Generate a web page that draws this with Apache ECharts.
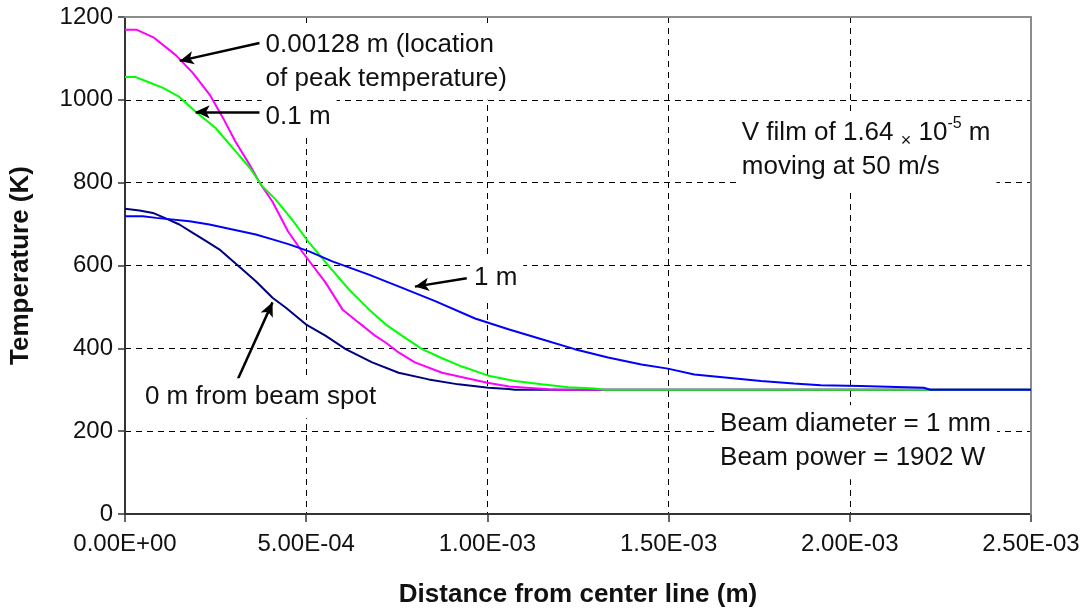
<!DOCTYPE html>
<html>
<head>
<meta charset="utf-8">
<script src="https://cdn.jsdelivr.net/npm/echarts@6/dist/echarts.min.js"></script>
<style>
  html, body { margin: 0; padding: 0; background: #fff; }
  #chart { width: 1087px; height: 613px; }
</style>
</head>
<body>
<div id="chart"></div>
<script>
// Temperature profiles across the V film, distance in metres
const distSpot = [0, 0.00004, 0.000077, 0.000114, 0.00015, 0.000187, 0.000224, 0.00026, 0.000306, 0.000325, 0.000361, 0.000407, 0.000444, 0.000499, 0.000554, 0.000609, 0.000682, 0.000755, 0.000838, 0.00092, 0.001003, 0.001058, 0.001076, 0.0025];
const tempSpot = [737, 733, 727, 713, 699, 679, 659, 639, 604, 590, 562, 522, 498, 458, 430, 398, 366, 341, 325, 313, 305, 302, 300, 300];

const distPeak = [0, 0.000033, 0.00008, 0.00014, 0.000187, 0.000234, 0.00027, 0.000305, 0.000344, 0.00037, 0.000407, 0.00045, 0.00049, 0.000554, 0.0006, 0.000645, 0.000691, 0.000719, 0.000755, 0.0008, 0.000875, 0.001, 0.00106, 0.00117, 0.0012, 0.0025];
const tempPeak = [1169, 1169, 1150, 1108, 1065, 1012, 957, 899, 843, 802, 754, 682, 632, 558, 494, 462, 430, 414, 390, 366, 341, 317, 308, 301, 300, 300];

const dist01 = [0, 0.00003, 0.00005, 0.000105, 0.00015, 0.000195, 0.00025, 0.000297, 0.000344, 0.00038, 0.000416, 0.00046, 0.000508, 0.000563, 0.000618, 0.000673, 0.000719, 0.000765, 0.00082, 0.000875, 0.00093, 0.001003, 0.001076, 0.00115, 0.001223, 0.001296, 0.001324, 0.0025];
const temp01 = [1055, 1055, 1048, 1029, 1007, 971, 932, 884, 836, 790, 759, 712, 655, 598, 542, 494, 458, 430, 398, 376, 356, 334, 321, 313, 306, 303, 300, 300];

const dist1 = [0, 0.000049, 0.000086, 0.000178, 0.000233, 0.000297, 0.000361, 0.000407, 0.000453, 0.000508, 0.000572, 0.000673, 0.000765, 0.000856, 0.000966, 0.001058, 0.00115, 0.001241, 0.001333, 0.001425, 0.001498, 0.001571, 0.001663, 0.001755, 0.001846, 0.00192, 0.00203, 0.002204, 0.002222, 0.0025];
const temp1 = [719, 719, 715, 707, 699, 687, 675, 663, 651, 634, 610, 578, 546, 514, 472, 446, 422, 398, 378, 361, 351, 337, 329, 321, 315, 311, 309, 305, 300, 300];

const xMin = 0, xMax = 0.0025, xStep = 0.0005;
const yMin = 0, yMax = 1200, yStep = 200;

// Callout arrows: [tail, head] in data coordinates
const arrows = [
  [[0.000371, 1137], [0.000151, 1094]],
  [[0.000371, 971], [0.000195, 971]],
  [[0.000943, 569], [0.0008, 549]],
  [[0.000311, 325], [0.000407, 511]]
];

// Callout texts anchored at [left edge, centre of first line] in data coordinates
const notes = [
  { at: [0.000388, 1133], text: '0.00128 m (location\nof peak temperature)' },
  { at: [0.000388, 959], text: '0.1 m' },
  { at: [0.000963, 571], text: '1 m' },
  { at: [0.000055, 282], text: '0 m from beam spot' },
  { at: [0.001702, 920], text: 'V film of 1.64 {x|×} 10{sup|-5} m\nmoving at 50 m/s' },
  { at: [0.001642, 217], text: 'Beam diameter = 1 mm\nBeam power = 1902 W' }
];

const FONT = '"Liberation Sans", Arial, sans-serif';
const TXT = '#111';

function sciLabel(v) {
  const parts = v.toExponential(2).split('e');
  const exp = parseInt(parts[1], 10);
  const sign = exp < 0 ? '-' : '+';
  const mag = String(Math.abs(exp)).padStart(2, '0');
  return parts[0] + 'E' + sign + mag;
}

function pairs(xs, ys) { return xs.map((x, i) => [x, ys[i]]); }

function curve(name, xs, ys, color) {
  return {
    name, type: 'line', data: pairs(xs, ys),
    showSymbol: false, symbol: 'none',
    lineStyle: { color, width: 2 },
    emphasis: { disabled: true },
    animation: false, z: 3
  };
}

const chart = echarts.init(document.getElementById('chart'), null, { renderer: 'canvas' });

const option = {
  backgroundColor: '#fff',
  animation: false,
  grid: { left: 122, right: 56, top: 17, bottom: 98, containLabel: false },
  xAxis: [{
    type: 'value', min: xMin, max: xMax, interval: xStep,
    name: 'Distance from center line (m)', nameLocation: 'middle', nameGap: 68,
    nameTextStyle: { fontFamily: FONT, fontSize: 26, fontWeight: 'bold', color: TXT },
    axisLine: { show: true, onZero: false, lineStyle: { color: '#333', width: 2 } },
    axisTick: { show: true, inside: false, length: 8, lineStyle: { color: '#333', width: 1.5 } },
    axisLabel: { fontFamily: FONT, fontSize: 24, color: TXT, margin: 18, formatter: sciLabel },
    splitLine: { show: true, lineStyle: { color: '#000', width: 1, type: [6, 5] } }
  }, {
    type: 'value', min: xMin, max: xMax, position: 'top', z: 1,
    axisLine: { show: true, onZero: false, lineStyle: { color: '#8c8c8c', width: 2 } },
    axisTick: { show: false }, axisLabel: { show: false }, splitLine: { show: false }
  }],
  yAxis: [{
    type: 'value', min: yMin, max: yMax, interval: yStep,
    name: 'Temperature (K)', nameLocation: 'middle', nameGap: 91, nameRotate: 90,
    nameTextStyle: { fontFamily: FONT, fontSize: 26, fontWeight: 'bold', color: TXT },
    axisLine: { show: true, onZero: false, lineStyle: { color: '#333', width: 2 } },
    axisTick: { show: true, inside: false, length: 7, lineStyle: { color: '#333', width: 1.5 } },
    axisLabel: { fontFamily: FONT, fontSize: 24, color: TXT, margin: 12, formatter: v => String(v) },
    splitLine: { show: true, lineStyle: { color: '#000', width: 1, type: [6, 5] } }
  }, {
    type: 'value', min: yMin, max: yMax, position: 'right', z: 1,
    axisLine: { show: true, onZero: false, lineStyle: { color: '#8c8c8c', width: 2 } },
    axisTick: { show: false }, axisLabel: { show: false }, splitLine: { show: false }
  }],
  series: [
    curve('0 m', distSpot, tempSpot, '#000080'),
    curve('0.00128 m', distPeak, tempPeak, '#ff00ff'),
    curve('0.1 m', dist01, temp01, '#00ff00'),
    curve('1 m', dist1, temp1, '#0000ff'),
    {
      name: 'callouts', type: 'line', data: [], z: 5,
      markLine: {
        silent: true, animation: false,
        symbol: ['none', 'arrow'], symbolSize: [10, 14],
        lineStyle: { color: '#000', width: 2.5, type: 'solid' },
        label: { show: false },
        emphasis: { disabled: true },
        data: arrows.map(a => [{ coord: a[0] }, { coord: a[1] }])
      }
    }
  ]
};

chart.setOption(option);

// Place the callout texts (white boxes mask the grid behind them)
const graphics = notes.map(n => {
  const p = chart.convertToPixel({ gridIndex: 0 }, n.at);
  return {
    type: 'text', x: p[0] - 4, y: p[1] - 17 - 2, z: 10,
    style: {
      text: n.text,
      font: '26px ' + FONT,
      fill: TXT,
      lineHeight: 34,
      verticalAlign: 'top',
      align: 'left',
      backgroundColor: '#fff',
      padding: [2, 6, 4, 4],
      rich: {
        x: { font: '18px ' + FONT, fill: TXT, lineHeight: 34, verticalAlign: 'bottom' },
        sup: { font: '16px ' + FONT, fill: TXT, lineHeight: 34, verticalAlign: 'top', padding: [0, 0, 14, 0] }
      }
    }
  };
});
chart.setOption({ graphic: graphics });
</script>
</body>
</html>
